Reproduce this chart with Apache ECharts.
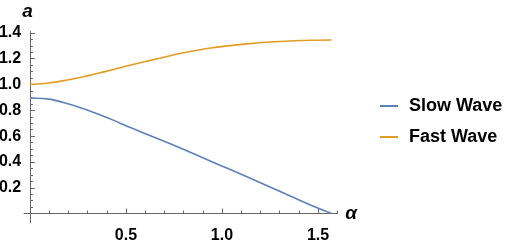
<!DOCTYPE html>
<html>
<head>
<meta charset="utf-8">
<script src="https://cdn.jsdelivr.net/npm/echarts@6/dist/echarts.min.js"></script>
<style>html,body{margin:0;padding:0;background:#fff;}#c{width:511px;height:241px;}</style>
</head>
<body>
<div id="c"></div>
<script>
var alpha = [0, 0.1, 0.17, 0.26, 0.35, 0.43, 0.52, 0.65, 0.78, 0.95, 1.13, 1.3, 1.47, 1.571];
var slowWave = [0.895, 0.887, 0.862, 0.822, 0.774, 0.726, 0.668, 0.59, 0.51, 0.40, 0.285, 0.173, 0.06, 0];
var fastWave = [1.0, 1.012, 1.028, 1.054, 1.085, 1.115, 1.15, 1.195, 1.24, 1.285, 1.315, 1.333, 1.343, 1.345];
var seriesNames = ['Slow Wave', 'Fast Wave'];
var xMajor = [0.5, 1.0, 1.5];
var xMinor = [0.1, 0.2, 0.3, 0.4, 0.6, 0.7, 0.8, 0.9, 1.1, 1.2, 1.3, 1.4, 1.6];
var yMajor = [0.2, 0.4, 0.6, 0.8, 1.0, 1.2, 1.4];
var yMinor = [0.05, 0.1, 0.15, 0.25, 0.3, 0.35, 0.45, 0.5, 0.55, 0.65, 0.7, 0.75, 0.85, 0.9, 0.95, 1.05, 1.1, 1.15, 1.25, 1.3, 1.35];

function pairs(xs, ys) { return xs.map(function (x, i) { return [x, ys[i]]; }); }

var FONT = "'Liberation Sans', Arial, sans-serif";
var axisColor = '#666666';
var labelStyle = { color: '#000', fontFamily: FONT, fontWeight: 'bold', fontSize: 16 };

var chart = echarts.init(document.getElementById('c'), null, { renderer: 'canvas' });
chart.setOption({
  animation: false,
  backgroundColor: '#fff',
  grid: { left: 24.2, top: 31.6, width: 313, height: 191, containLabel: false, outerBoundsMode: 'none' },
  legend: {
    orient: 'vertical', left: 375, top: 91, itemWidth: 18, itemHeight: 2, itemGap: 11,
    icon: 'rect',
    data: seriesNames,
    textStyle: { color: '#000', fontFamily: FONT, fontWeight: 'bold', fontSize: 18, lineHeight: 20, padding: [0, 0, 0, 6] }
  },
  xAxis: [{
    type: 'value', min: -0.03, max: 1.6, position: 'bottom',
    name: 'α', nameLocation: 'end', nameGap: 8,
    nameTextStyle: { color: '#000', fontFamily: FONT, fontStyle: 'italic', fontWeight: 'bold', fontSize: 19, verticalAlign: 'middle' },
    axisLine: { show: true, onZero: true, onZeroAxisIndex: 0, lineStyle: { color: axisColor, width: 1 } },
    axisTick: { show: true, inside: true, length: 5, customValues: xMajor, lineStyle: { color: axisColor } },
    axisLabel: { show: true, customValues: xMajor, margin: 5, formatter: function (v) { return v.toFixed(1); }, ...labelStyle },
    splitLine: { show: false }
  }, {
    type: 'value', min: -0.03, max: 1.6, position: 'bottom',
    axisLine: { show: true, onZero: true, onZeroAxisIndex: 0, lineStyle: { color: axisColor, width: 1 } },
    axisTick: { show: true, inside: true, length: 3, customValues: xMinor, lineStyle: { color: axisColor } },
    axisLabel: { show: false },
    splitLine: { show: false }
  }],
  yAxis: [{
    type: 'value', min: -0.07, max: 1.41, position: 'left',
    name: 'a', nameLocation: 'end', nameGap: 10,
    nameTextStyle: { color: '#000', fontFamily: FONT, fontStyle: 'italic', fontWeight: 'bold', fontSize: 19, padding: [0, 5, 0, 0] },
    axisLine: { show: true, onZero: true, onZeroAxisIndex: 0, lineStyle: { color: axisColor, width: 1 } },
    axisTick: { show: true, inside: true, length: 5, customValues: yMajor, lineStyle: { color: axisColor } },
    axisLabel: { show: true, customValues: yMajor, margin: 3, formatter: function (v) { return v.toFixed(1); }, ...labelStyle },
    splitLine: { show: false }
  }, {
    type: 'value', min: -0.07, max: 1.41, position: 'left',
    axisLine: { show: true, onZero: true, onZeroAxisIndex: 0, lineStyle: { color: axisColor, width: 1 } },
    axisTick: { show: true, inside: true, length: 3, customValues: yMinor, lineStyle: { color: axisColor } },
    axisLabel: { show: false },
    splitLine: { show: false }
  }],
  series: [{
    name: seriesNames[0], type: 'line', xAxisIndex: 0, yAxisIndex: 0,
    data: pairs(alpha, slowWave), smooth: 0.25, showSymbol: false,
    itemStyle: { color: '#5e81b5' }, lineStyle: { color: '#5e81b5', width: 1.6 }
  }, {
    name: seriesNames[1], type: 'line', xAxisIndex: 0, yAxisIndex: 0,
    data: pairs(alpha, fastWave), smooth: 0.25, showSymbol: false,
    itemStyle: { color: '#e19c24' }, lineStyle: { color: '#e19c24', width: 1.6 }
  }]
});
</script>
</body>
</html>
